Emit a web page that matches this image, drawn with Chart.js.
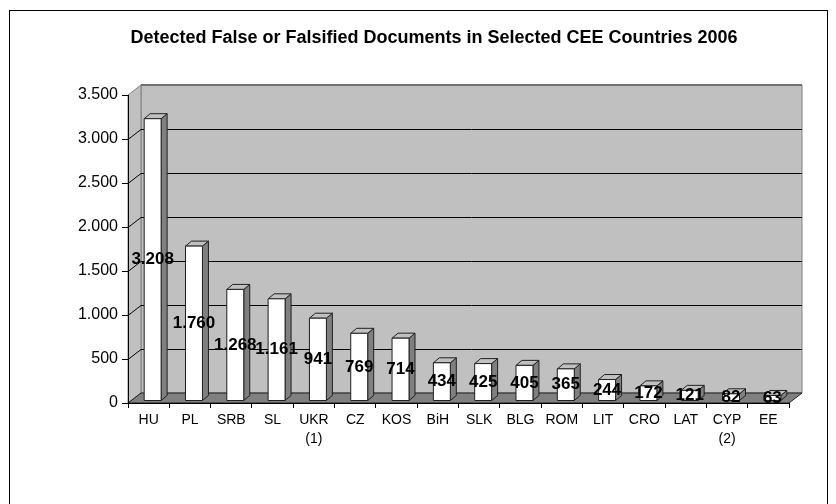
<!DOCTYPE html>
<html>
<head>
<meta charset="utf-8">
<script src="https://cdn.jsdelivr.net/npm/chart.js@4.4.1/dist/chart.umd.min.js"></script>
<style>
  html, body { margin: 0; padding: 0; background: #fff; }
  #wrap { width: 836px; height: 504px; }
</style>
</head>
<body>
<div id="wrap"><canvas id="docsChart" width="836" height="504"></canvas></div>
<script>
const countries = ['HU', 'PL', 'SRB', 'SL', ['UKR', '(1)'], 'CZ', 'KOS', 'BiH', 'SLK', 'BLG', 'ROM', 'LIT', 'CRO', 'LAT', ['CYP', '(2)'], 'EE'];
const documents = [3208, 1760, 1268, 1161, 941, 769, 714, 434, 425, 405, 365, 244, 172, 121, 82, 63];
const yTicks = [0, 500, 1000, 1500, 2000, 2500, 3000, 3500];

const chartTitle = 'Detected False or Falsified Documents in Selected CEE Countries 2006';
const FONT = "'Liberation Sans', Arial, sans-serif";

// depth of the walls and of each column, in px
const WALL = { dx: 13, dy: -10 };
const COL = { fx: 4, fy: -2, dx: 6, dy: -5 };

// 1.000 style numbers
function fmt(v) {
  if (v < 1000) return String(v);
  return Math.floor(v / 1000) + '.' + String(v % 1000).padStart(3, '0');
}

function poly(ctx, pts, fill, stroke) {
  ctx.beginPath();
  ctx.moveTo(pts[0][0], pts[0][1]);
  for (let i = 1; i < pts.length; i++) ctx.lineTo(pts[i][0], pts[i][1]);
  ctx.closePath();
  if (fill) { ctx.fillStyle = fill; ctx.fill(); }
  if (stroke) { ctx.strokeStyle = stroke; ctx.lineWidth = 1; ctx.stroke(); }
}

// frame, title, walls, floor and grid behind everything
const backdrop = {
  id: 'backdrop',
  beforeDraw(chart) {
    const { ctx, chartArea: a, scales: { y } } = chart;
    const L = a.left, R = a.right, T = a.top, B = a.bottom;
    const dx = WALL.dx, dy = WALL.dy;
    ctx.save();

    ctx.strokeStyle = '#000';
    ctx.lineWidth = 1;
    ctx.strokeRect(9.5, 10.5, 818, 600);

    ctx.fillStyle = '#000';
    ctx.font = 'bold 18px ' + FONT;
    ctx.textAlign = 'center';
    ctx.textBaseline = 'middle';
    ctx.fillText(chartTitle, 434, 38);

    // back wall
    poly(ctx, [[L + dx, T + dy], [R + dx, T + dy], [R + dx, B + dy], [L + dx, B + dy]], '#c0c0c0', '#808080');
    ctx.strokeStyle = '#707070';
    ctx.lineWidth = 2;
    ctx.beginPath();
    ctx.moveTo(L + dx, T + dy);
    ctx.lineTo(R + dx, T + dy);
    ctx.stroke();
    // side wall
    poly(ctx, [[L, T], [L + dx, T + dy], [L + dx, B + dy], [L, B]], '#c0c0c0', '#808080');

    // grid on back and side wall
    ctx.strokeStyle = '#000';
    ctx.lineWidth = 1;
    yTicks.forEach(v => {
      if (v === 0 || v === 3500) return;
      const py = Math.round(y.getPixelForValue(v)) + 0.5;
      ctx.beginPath();
      ctx.moveTo(L, py);
      ctx.lineTo(L + dx, py + dy);
      ctx.lineTo(R + dx, py + dy);
      ctx.stroke();
    });

    // floor
    poly(ctx, [[L, B], [R, B], [R + dx, B + dy], [L + dx, B + dy]], '#808080', '#202020');
    ctx.restore();
  }
};

// 3d columns and their value labels
const columns = {
  id: 'columns',
  afterDatasetsDraw(chart) {
    const { ctx } = chart;
    const meta = chart.getDatasetMeta(0);
    ctx.save();
    meta.data.forEach(bar => {
      const l = bar.x - bar.width / 2 + COL.fx;
      const r = bar.x + bar.width / 2 + COL.fx;
      const t = bar.y + COL.fy;
      const b = bar.base + COL.fy;
      poly(ctx, [[r, t], [r + COL.dx, t + COL.dy], [r + COL.dx, b + COL.dy], [r, b]], '#808080', '#202020');
      poly(ctx, [[l, t], [r, t], [r + COL.dx, t + COL.dy], [l + COL.dx, t + COL.dy]], '#c0c0c0', '#202020');
      poly(ctx, [[l, t], [r, t], [r, b], [l, b]], '#ffffff', '#202020');
    });

    ctx.fillStyle = '#000';
    ctx.font = 'bold 17px ' + FONT;
    ctx.textAlign = 'center';
    ctx.textBaseline = 'middle';
    meta.data.forEach((bar, i) => {
      const cx = bar.x + COL.fx;
      const cy = (bar.y + bar.base) / 2 + COL.fy;
      ctx.fillText(fmt(documents[i]), cx, cy);
    });
    ctx.restore();
  }
};

new Chart(document.getElementById('docsChart'), {
  type: 'bar',
  data: {
    labels: countries,
    datasets: [{
      data: documents,
      backgroundColor: 'rgba(0,0,0,0)',
      borderWidth: 0,
      barPercentage: 0.41,
      categoryPercentage: 1
    }]
  },
  options: {
    responsive: false,
    animation: false,
    layout: { padding: { top: 95, left: 10, right: 47, bottom: 41 } },
    plugins: {
      legend: { display: false },
      tooltip: { enabled: false }
    },
    scales: {
      x: {
        afterFit: s => { s.height = 60; },
        grid: { drawOnChartArea: false, drawTicks: true, tickLength: 5, color: '#000', offset: true },
        border: { display: true, color: '#000' },
        ticks: {
          color: '#000',
          padding: 3,
          maxRotation: 0,
          autoSkip: false,
          font: { family: FONT, size: 14, lineHeight: 1.35 }
        }
      },
      y: {
        min: 0,
        max: 3500,
        afterFit: s => { s.width = 118; },
        afterBuildTicks: s => { s.ticks = yTicks.map(v => ({ value: v })); },
        grid: { drawOnChartArea: false, drawTicks: true, tickLength: 6, color: '#000' },
        border: { display: true, color: '#000' },
        ticks: {
          color: '#000',
          padding: 4,
          font: { family: FONT, size: 16 },
          callback: v => fmt(v)
        }
      }
    }
  },
  plugins: [backdrop, columns]
});
</script>
</body>
</html>
